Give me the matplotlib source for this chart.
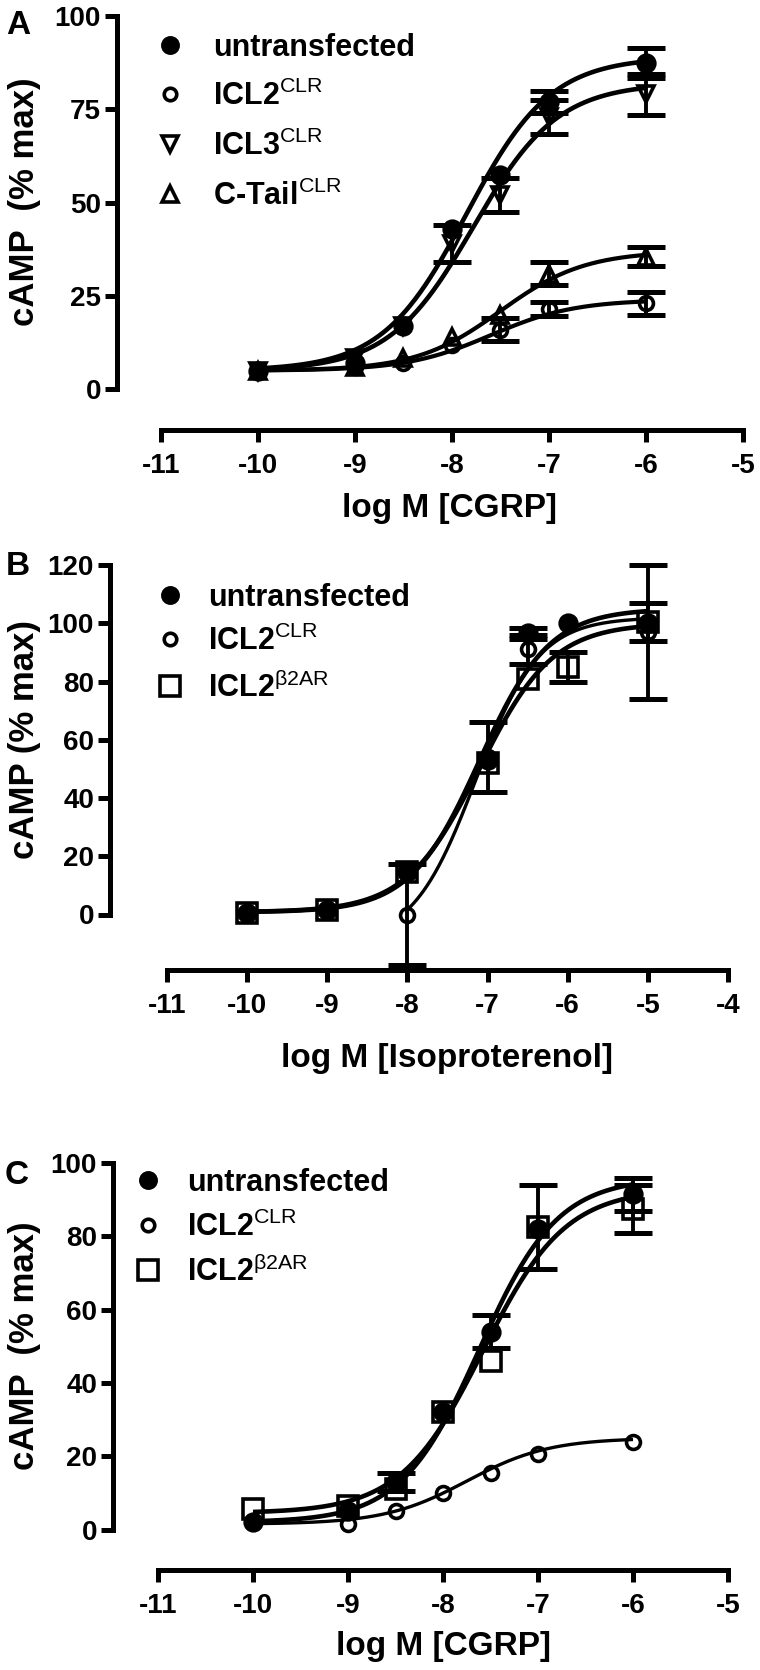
import numpy as np
import matplotlib
matplotlib.use('Agg')
import matplotlib.pyplot as plt
from matplotlib.lines import Line2D

plt.rcParams['font.family'] = ['Liberation Sans', 'DejaVu Sans']
plt.rcParams['mathtext.fontset'] = 'custom'
plt.rcParams['mathtext.rm'] = 'Liberation Sans'
plt.rcParams['mathtext.bf'] = 'Liberation Sans:bold'
plt.rcParams['mathtext.it'] = 'Liberation Sans:italic'
plt.rcParams['axes.unicode_minus'] = False

# ---------------- Panel A (CGRP) ----------------
a_x = [-10, -9, -8.5, -8, -7.5, -7, -6]
a_untr = [5, 7, 17, 43, 57.5, 77, 87.5]
a_untr_err = [0, 0, 0, 0, 0, 3, 4]
a_icl2 = [5, 6, 7, 12, 16, 21.5, 23]
a_icl2_err = [0, 0, 0, 0, 3, 1.8, 3]
a_icl3 = [5, 8.5, 17, 39, 52, 73, 79]
a_icl3_err = [0, 0, 0, 5, 4.5, 4.5, 5.5]
a_ctail = [5, 6, 8.5, 14, 20, 31, 35.5]
a_ctail_err = [0, 0, 0, 0, 0, 3, 2.5]
# fitted curve parameters: bottom, top, logEC50, hill
a_fit_untr = [5, 89, -7.85, 1.0]
a_fit_icl2 = [5, 24, -7.6, 1.0]
a_fit_icl3 = [5, 82, -7.78, 1.0]
a_fit_ctail = [5, 37, -7.5, 1.0]

# ---------------- Panel B (Isoproterenol) ----------------
b_x = [-10, -9, -8, -7, -6.5, -6, -5]
b_untr = [0.5, 1.5, 14.5, 53, 96.5, 100, 100]
b_untr_err = [0, 0, 0, 0, 2, 0, 0]
b_icl2 = [np.nan, np.nan, 0, 54, 91, 100, 97]
b_icl2_err = [0, 0, 17.5, 12, 5, 0, 23]
b_b2ar = [0.5, 1.5, 14.5, 52, 81, 85, 100.5]
b_b2ar_err = [0, 0, 0, 0, 0, 5, 6.5]
b_fit_untr = [0.8, 105, -7.1, 1.0]
b_fit_icl2 = [-10, 102, -7.15, 1.1]
b_fit_b2ar = [0.8, 100, -7.1, 0.95]

# ---------------- Panel C (CGRP) ----------------
c_x = [-10, -9, -8.5, -8, -7.5, -7, -6]
c_untr = [2, 5, 13, 32, 54, 82, 91.5]
c_untr_err = [0, 0, 2.5, 0, 4.5, 0, 4.5]
c_icl2 = [2, 1.5, 5, 10, 15.5, 20.5, 24]
c_icl2_err = [0, 0, 0, 0, 0, 0, 0]
c_b2ar = [5.5, 6.5, 11, 32, 46, 82.5, 87.5]
c_b2ar_err = [0, 0, 0, 0, 0, 11.5, 6.5]
c_fit_untr = [2, 96, -7.62, 1.05]
c_fit_icl2 = [1.5, 25, -7.75, 1.0]
c_fit_b2ar = [4.5, 93, -7.58, 1.0]

legend_a = ['untransfected', r'ICL2$^{\mathrm{CLR}}$', r'ICL3$^{\mathrm{CLR}}$', r'C-Tail$^{\mathrm{CLR}}$']
legend_bc = ['untransfected', r'ICL2$^{\mathrm{CLR}}$', r'ICL2$^{\mathrm{β2AR}}$']

W, H = 760, 1670
fig = plt.figure(figsize=(W / 100, H / 100), dpi=100)


def fx(px):
    return px / W


def fy(py):
    return 1 - py / H


def logistic(x, p):
    bottom, top, ec, hill = p
    return bottom + (top - bottom) / (1 + 10 ** ((ec - x) * hill))


def make_axes(left, right, top, bottom, xlim, ylim, xticks, yticks, xbounds, ybounds):
    ax = fig.add_axes([fx(left), fy(bottom), (right - left) / W, (bottom - top) / H])
    ax.set_xlim(*xlim)
    ax.set_ylim(*ylim)
    ax.patch.set_alpha(0)
    for s in ['top', 'right']:
        ax.spines[s].set_visible(False)
    for s in ['left', 'bottom']:
        ax.spines[s].set_linewidth(3.6)
        ax.spines[s].set_capstyle('projecting')
    ax.spines['left'].set_bounds(*ybounds)
    ax.spines['bottom'].set_bounds(*xbounds)
    ax.set_xticks(xticks)
    ax.set_xticklabels([str(v) for v in xticks])
    ax.set_yticks(yticks)
    ax.set_yticklabels([str(v) for v in yticks])
    ax.tick_params(axis='both', width=3.6, length=8.5, labelsize=20, direction='out')
    ax.tick_params(axis='x', pad=8)
    ax.tick_params(axis='y', pad=3)
    for lbl in ax.get_xticklabels() + ax.get_yticklabels():
        lbl.set_fontweight('bold')
    return ax


def series(ax, x, y, e, marker, ms, filled, mew=2.6):
    x = np.asarray(x, float)
    y = np.asarray(y, float)
    e = np.asarray(e, float)
    vis = e > 0
    if vis.any():
        ax.errorbar(x[vis], y[vis], yerr=e[vis], fmt='none', ecolor='black',
                    elinewidth=2.8, capsize=14, capthick=3.6, zorder=4)
    ax.plot(x, y, ls='none', marker=marker, ms=ms,
            mfc='black' if filled else 'none', mec='black', mew=mew, zorder=5)


def curve(ax, x0, x1, p, lw):
    xs = np.linspace(x0, x1, 300)
    ax.plot(xs, logistic(xs, p), color='black', lw=lw, zorder=3, solid_capstyle='butt')


def legend(mx, tx, rows, specs, labels, weights):
    for (my, spec, lab, wt) in zip(rows, specs, labels, weights):
        marker, ms, filled = spec
        fig.add_artist(Line2D([fx(mx)], [fy(my)], transform=fig.transFigure, marker=marker, ms=ms,
                              mfc='black' if filled else 'none', mec='black', mew=2.6, ls='none'))
        fig.text(fx(tx), fy(my + 11), lab, fontsize=22, fontweight=wt, ha='left', va='baseline')


# ---------------- Panel A ----------------
axA = make_axes(117, 743, 16, 430, (-5 - (743 - 117) / 97, -5), (100 - (430 - 16) / 3.733, 100),
                [-11, -10, -9, -8, -7, -6, -5], [0, 25, 50, 75, 100], (-11, -5), (0, 100))
curve(axA, -10, -6, a_fit_untr, 3.3)
curve(axA, -10, -6, a_fit_icl3, 3.3)
curve(axA, -10, -6, a_fit_ctail, 3.0)
curve(axA, -10, -6, a_fit_icl2, 3.0)
series(axA, a_x, a_ctail, a_ctail_err, '^', 11, False)
series(axA, a_x, a_icl2, a_icl2_err, 'o', 10, False)
series(axA, a_x, a_icl3, a_icl3_err, 'v', 11, False)
series(axA, a_x, a_untr, a_untr_err, 'o', 12, True)
fig.text(fx(18), fy(26), 'A', fontsize=24, fontweight='bold', ha='center', va='center')
fig.text(fx(25), fy(202), 'cAMP  (% max)', fontsize=25, fontweight='bold', rotation=90, ha='center', va='center')
fig.text(fx(450), fy(508), 'log M [CGRP]', fontsize=24, fontweight='bold', ha='center', va='center')
legend(170, 213, [45, 94, 144, 194],
       [('o', 11, True), ('o', 9, False), ('v', 11, False), ('^', 11, False)],
       legend_a, ['bold', 'bold', 'bold', 'bold'])

# ---------------- Panel B ----------------
b_ys = (914.5 - 565) / 120
axB = make_axes(110, 728, 565, 970, (-4 - (728 - 110) / 80.14, -4), (-(970 - 914.5) / b_ys, 120),
                [-11, -10, -9, -8, -7, -6, -5, -4], [0, 20, 40, 60, 80, 100, 120], (-11, -4), (0, 120))
curve(axB, -10, -5, b_fit_untr, 3.3)
curve(axB, -10, -5, b_fit_b2ar, 3.3)
curve(axB, -8, -5, b_fit_icl2, 2.4)
series(axB, b_x, b_b2ar, b_b2ar_err, 's', 14, False)
series(axB, b_x, b_icl2, b_icl2_err, 'o', 10, False)
series(axB, b_x, b_untr, b_untr_err, 'o', 12, True)
fig.text(fx(18), fy(566), 'B', fontsize=24, fontweight='bold', ha='center', va='center')
fig.text(fx(25), fy(740), 'cAMP (% max)', fontsize=25, fontweight='bold', rotation=90, ha='center', va='center')
fig.text(fx(447), fy(1058), 'log M [Isoproterenol]', fontsize=24, fontweight='bold', ha='center', va='center')
legend(170, 208, [595, 639, 686],
       [('o', 11, True), ('o', 9, False), ('s', 14, False)],
       legend_bc, ['bold', 'bold', 'bold'])

# ---------------- Panel C ----------------
c_ys = (1383 - 1163) / 60
axC = make_axes(113, 728, 1163, 1570, (-5 - (728 - 113) / 95, -5), (-(1570 - (1163 + 100 * c_ys)) / c_ys, 100),
                [-11, -10, -9, -8, -7, -6, -5], [0, 20, 40, 60, 80, 100], (-11, -5), (0, 100))
curve(axC, -10, -6, c_fit_untr, 3.3)
curve(axC, -10, -6, c_fit_b2ar, 3.3)
curve(axC, -10, -6, c_fit_icl2, 2.4)
series(axC, c_x, c_b2ar, c_b2ar_err, 's', 14, False)
series(axC, c_x, c_icl2, c_icl2_err, 'o', 10, False)
series(axC, c_x, c_untr, c_untr_err, 'o', 12, True)
fig.text(fx(17), fy(1175), 'C', fontsize=24, fontweight='bold', ha='center', va='center')
fig.text(fx(25), fy(1346), 'cAMP  (% max)', fontsize=25, fontweight='bold', rotation=90, ha='center', va='center')
fig.text(fx(443), fy(1647), 'log M [CGRP]', fontsize=24, fontweight='bold', ha='center', va='center')
legend(148, 187, [1180, 1225, 1270],
       [('o', 11, True), ('o', 9, False), ('s', 14, False)],
       legend_bc, ['bold', 'bold', 'bold'])

for ax in (axA, axB, axC):
    for art in ax.get_children():
        try:
            art.set_clip_on(False)
        except Exception:
            pass

fig.savefig('out.png', dpi=100)
